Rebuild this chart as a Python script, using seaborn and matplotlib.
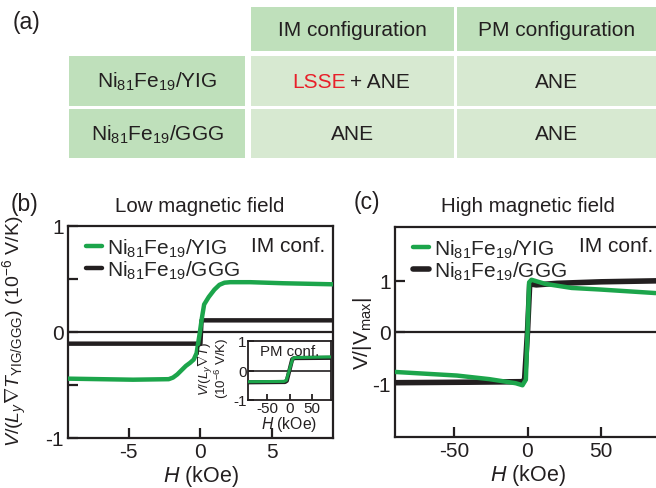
import numpy as np
import pandas as pd
import matplotlib
matplotlib.use("Agg")
import matplotlib.pyplot as plt
from matplotlib.patches import Rectangle
import seaborn as sns

# ---------------- data ----------------
# (a) table
col_labels = ["IM configuration", "PM configuration"]
row_labels = [r"Ni$_{81}$Fe$_{19}$/YIG", r"Ni$_{81}$Fe$_{19}$/GGG"]
cell_texts = [["LSSE + ANE", "ANE"], ["ANE", "ANE"]]

# (b) low field, IM configuration (10^-6 V/K)
b_yig_H = [-9.3, -4.7, -2.2, -1.9, -1.6, -1.3, -1.0, -0.7, -0.45, -0.25, -0.05, 0.12, 0.28,
           0.6, 1.0, 1.35, 1.7, 2.1, 3.5, 5.8, 9.3]
b_yig_V = [-0.44, -0.45, -0.445, -0.43, -0.40, -0.36, -0.32, -0.29, -0.26, -0.20, -0.03, 0.13,
           0.26, 0.33, 0.40, 0.445, 0.465, 0.47, 0.47, 0.46, 0.45]
b_ggg_H = [-9.3, 0.02, 0.10, 9.3]
b_ggg_V = [-0.11, -0.11, 0.11, 0.11]

# (b) inset, PM configuration
pm_yig_H = [-92, -12, -7, 7, 12, 92]
pm_yig_V = [-0.38, -0.37, -0.33, 0.40, 0.44, 0.46]
pm_ggg_H = [-92, -10, -6, 6, 10, 92]
pm_ggg_V = [-0.40, -0.39, -0.35, 0.38, 0.42, 0.43]

# (c) high field, normalised
c_yig_H = [-90, -48, -26, -8, -3.4, -1.1, 0.0, 1.1, 2.7, 12, 30, 49, 87]
c_yig_V = [-0.78, -0.85, -0.92, -1.0, -1.04, -0.93, 0.0, 0.97, 1.02, 0.94, 0.86, 0.83, 0.76]
c_ggg_H = [-90, -40, -4, -2, 0, 1.5, 6, 20, 50, 90]
c_ggg_V = [-0.99, -0.98, -0.97, -0.94, 0.0, 0.94, 0.92, 0.95, 0.98, 1.0]

GREEN = "#1ca54b"
BLACK = "#231f20"

# ---------------- style ----------------
sns.set_style("ticks")
plt.rcParams["font.family"] = ["Liberation Sans", "DejaVu Sans"]
plt.rcParams["mathtext.fontset"] = "custom"
plt.rcParams["mathtext.rm"] = "Liberation Sans"
plt.rcParams["mathtext.it"] = "Liberation Sans:italic"
plt.rcParams["mathtext.bf"] = "Liberation Sans:bold"
plt.rcParams["mathtext.sf"] = "Liberation Sans"
plt.rcParams["axes.unicode_minus"] = False

FS = 15          # main text size
W, H = 656, 489
fig = plt.figure(figsize=(W / 100, H / 100), dpi=100)

# pixel-coordinate canvas for the table and panel labels
canvas = fig.add_axes([0, 0, 1, 1])
canvas.set_xlim(0, W)
canvas.set_ylim(H, 0)
canvas.axis("off")

DARK = "#bfe0bb"
LIGHT = "#d7e9d1"
col_x = [(251, 454), (457, 670)]
row_y = [(57, 107), (110, 159)]
head_y = (8, 52)
lab_x = (69, 245)

for (x0, x1), lab in zip(col_x, col_labels):
    canvas.add_patch(Rectangle((x0, head_y[0]), x1 - x0, head_y[1] - head_y[0], color=DARK, lw=0))
    canvas.text((x0 + min(x1, W)) / 2, sum(head_y) / 2 + 1, lab, ha="center", va="center",
                fontsize=FS, color=BLACK)

for (y0, y1), rlab, texts in zip(row_y, row_labels, cell_texts):
    canvas.add_patch(Rectangle((lab_x[0], y0), lab_x[1] - lab_x[0], y1 - y0, color=DARK, lw=0))
    canvas.text(sum(lab_x) / 2, (y0 + y1) / 2, rlab, ha="center", va="center", fontsize=FS, color=BLACK)
    for (x0, x1), t in zip(col_x, texts):
        canvas.add_patch(Rectangle((x0, y0), x1 - x0, y1 - y0, color=LIGHT, lw=0))
        cx = (x0 + min(x1, W)) / 2
        cy = (y0 + y1) / 2
        if t.startswith("LSSE"):
            first, rest = t.split(" ", 1)
            canvas.text(cx - 7, cy, first, ha="right", va="center", fontsize=FS, color="#e8202a")
            canvas.text(cx - 2, cy, rest, ha="left", va="center", fontsize=FS, color=BLACK)
        else:
            canvas.text(cx, cy, t, ha="center", va="center", fontsize=FS, color=BLACK)

canvas.text(26, 22, "(a)", ha="center", va="center", fontsize=16.5, color=BLACK)
canvas.text(24, 205, "(b)", ha="center", va="center", fontsize=16.5, color=BLACK)
canvas.text(367, 203, "(c)", ha="center", va="center", fontsize=16.5, color=BLACK)
canvas.text(200, 207, "Low magnetic field", ha="center", va="center", fontsize=14.8, color=BLACK)
canvas.text(528, 207, "High magnetic field", ha="center", va="center", fontsize=14.8, color=BLACK)


def px_axes(left, top, right, bottom):
    return fig.add_axes([left / W, 1 - bottom / H, (right - left) / W, (bottom - top) / H])


def style_axes(ax, lw=1.6, tl=7, fs=FS):
    for s in ax.spines.values():
        s.set_linewidth(lw)
        s.set_color(BLACK)
    ax.tick_params(direction="in", length=tl, width=lw, labelsize=fs, colors=BLACK,
                   top=False, right=False, pad=3)
    ax.set_facecolor("none")


leg_labels = [r"Ni$_{81}$Fe$_{19}$/YIG", r"Ni$_{81}$Fe$_{19}$/GGG"]

# ---------------- (b) ----------------
axb = px_axes(68, 227, 333, 439)
axb.axhline(0, color=BLACK, lw=1.6, zorder=1)
sns.lineplot(x=b_ggg_H, y=b_ggg_V, ax=axb, color=BLACK, lw=3.2, sort=False, estimator=None,
             label=leg_labels[1], zorder=2)
sns.lineplot(x=b_yig_H, y=b_yig_V, ax=axb, color=GREEN, lw=3.2, sort=False, estimator=None,
             label=leg_labels[0], zorder=3)
axb.set_xlim(-9.25, 9.3)
axb.set_ylim(-1, 1)
axb.set_xticks([-5, 0, 5])
axb.set_xticklabels(["-5", "0", "5"])
axb.set_yticks([-1, -0.5, 0, 0.5, 1])
axb.set_yticklabels(["-1", "", "0", "", "1"])
style_axes(axb)
axb.set_xlabel(r"$H$ (kOe)", fontsize=15.5, color=BLACK, labelpad=1)
axb.set_ylabel(r"$V/(L_y\nabla T_{\mathrm{YIG/GGG}})$ (10$^{-6}$ V/K)", fontsize=14,
               color=BLACK, va="center")
axb.yaxis.set_label_coords((15 - 68) / 265, 0.51)
h, l = axb.get_legend_handles_labels()
axb.legend([h[1], h[0]], [l[1], l[0]], loc="upper left", bbox_to_anchor=(0.02, 1.01),
           frameon=False, fontsize=FS, handlelength=0.8, handletextpad=0.2,
           labelspacing=0.0, borderaxespad=0.2)
axb.text(0.97, 0.955, "IM conf.", transform=axb.transAxes, ha="right", va="top",
         fontsize=FS, color=BLACK)

# inset (PM configuration)
axi = px_axes(248, 342, 331, 401)
axi.axhline(0, color=BLACK, lw=1.2, zorder=1)
sns.lineplot(x=pm_ggg_H, y=pm_ggg_V, ax=axi, color=BLACK, lw=3.0, sort=False, estimator=None, zorder=2)
sns.lineplot(x=pm_yig_H, y=pm_yig_V, ax=axi, color=GREEN, lw=2.2, sort=False, estimator=None, zorder=3)
axi.set_xlim(-92, 92)
axi.set_ylim(-1, 1)
axi.set_xticks([-50, 0, 50])
axi.set_xticklabels(["-50", "0", "50"])
axi.set_yticks([-1, 0, 1])
axi.set_yticklabels(["-1", "0", "1"])
style_axes(axi, lw=1.3, tl=4, fs=11)
axi.tick_params(pad=1)
axi.set_facecolor("white")
axi.text(0.5, 0.95, "PM conf.", transform=axi.transAxes, ha="center", va="top", fontsize=10.8, color=BLACK)
axi.set_xlabel(r"$H$ (kOe)", fontsize=11.3, color=BLACK, labelpad=-1)
axi.set_ylabel(r"$V/(L_y\nabla T)$" + "\n" + r"(10$^{-6}$ V/K)", fontsize=9.6,
               color=BLACK, va="center", linespacing=0.85)
axi.yaxis.set_label_coords((214 - 248) / 83, 0.55)

# ---------------- (c) ----------------
axc = px_axes(395, 228, 660, 438)
axc.axhline(0, color=BLACK, lw=1.6, zorder=1)
sns.lineplot(x=c_ggg_H, y=c_ggg_V, ax=axc, color=BLACK, lw=4.0, sort=False, estimator=None,
             label=leg_labels[1], zorder=2)
sns.lineplot(x=c_yig_H, y=c_yig_V, ax=axc, color=GREEN, lw=3.2, sort=False, estimator=None,
             label=leg_labels[0], zorder=3)
axc.set_xlim(-90, 90)
axc.set_ylim(-2.05, 2.05)
axc.set_xticks([-50, 0, 50])
axc.set_xticklabels(["-50", "0", "50"])
axc.set_yticks([-1, 0, 1])
axc.set_yticklabels(["-1", "0", "1"])
style_axes(axc)
axc.spines["right"].set_visible(False)
axc.set_xlabel(r"$H$ (kOe)", fontsize=15.5, color=BLACK, labelpad=1)
axc.set_ylabel(r"V/$|$V$_{\mathrm{max}}|$", fontsize=15, color=BLACK, va="center")
axc.yaxis.set_label_coords((362 - 395) / 265, 0.5)
h, l = axc.get_legend_handles_labels()
axc.legend([h[1], h[0]], [l[1], l[0]], loc="upper left", bbox_to_anchor=(0.02, 1.01),
           frameon=False, fontsize=FS, handlelength=0.8, handletextpad=0.2,
           labelspacing=0.0, borderaxespad=0.2)
axc.text((579 - 395) / 265, 0.955, "IM conf.", transform=axc.transAxes, ha="left", va="top",
         fontsize=FS, color=BLACK)

fig.savefig("out.png", dpi=100)
